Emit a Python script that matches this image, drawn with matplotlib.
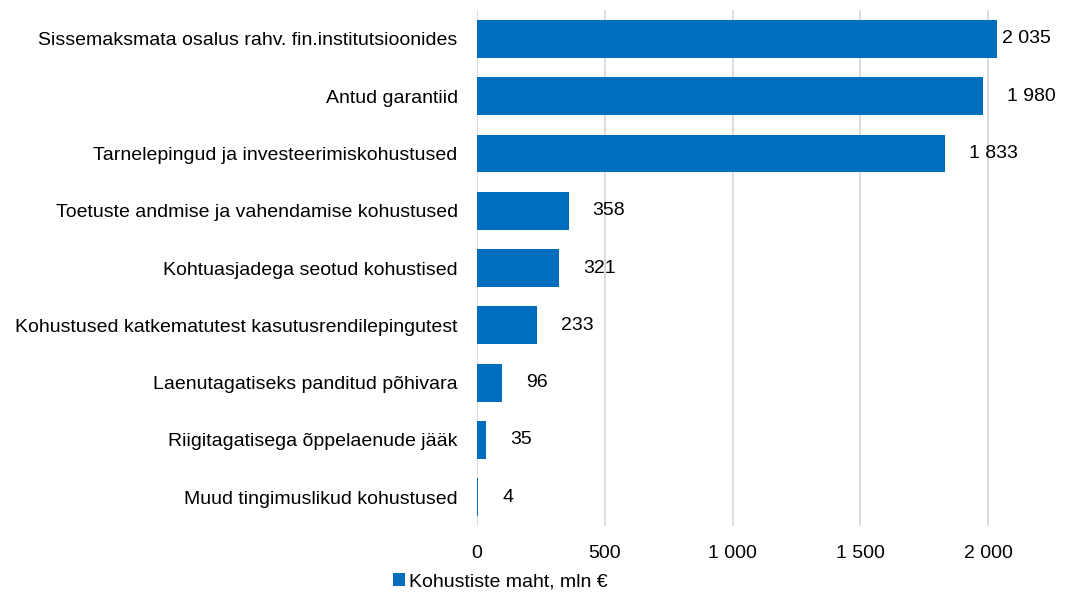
import matplotlib
matplotlib.use("Agg")
import matplotlib.pyplot as plt
from matplotlib.ticker import FuncFormatter

plt.rcParams['font.family'] = ['Liberation Sans Narrow', 'Liberation Sans', 'DejaVu Sans']

# andmed
categories = [
    "Sissemaksmata osalus rahv. fin.institutsioonides",
    "Antud garantiid",
    "Tarnelepingud ja investeerimiskohustused",
    "Toetuste andmise ja vahendamise kohustused",
    "Kohtuasjadega seotud kohustised",
    "Kohustused katkematutest kasutusrendilepingutest",
    "Laenutagatiseks panditud põhivara",
    "Riigitagatisega õppelaenude jääk",
    "Muud tingimuslikud kohustused",
]
values = [2035, 1980, 1833, 358, 321, 233, 96, 35, 4]
x_ticks = [0, 500, 1000, 1500, 2000]
series_name = "Kohustiste maht, mln €"

blue = "#006EBF"


def fmt(v):
    return "{:,}".format(int(v)).replace(",", " ")


fig = plt.figure(figsize=(10.65, 6.03), dpi=100)
ax = fig.add_axes([0.448, 0.128, 0.547, 0.855])

pos = list(range(len(categories)))
ax.barh(pos, values, height=0.66, color=blue, label=series_name, zorder=3)

for i, v in zip(pos, values):
    off = 5 if v > 2000 else 24
    ax.annotate(fmt(v), xy=(v, i), xytext=(off, 0), textcoords="offset pixels",
                ha="left", va="center", fontsize=14, color="#000000")

ax.set_ylim(len(categories) - 0.5, -0.5)
ax.set_xlim(0, 2280)
ax.set_xticks(x_ticks)
ax.xaxis.set_major_formatter(FuncFormatter(lambda v, p: fmt(v)))
ax.set_yticks(pos)
ax.set_yticklabels(categories, fontsize=14)
ax.tick_params(axis="y", length=0, pad=14)
ax.tick_params(axis="x", length=0, pad=14, labelsize=14)

ax.grid(axis="x", color="#D9D9D9", linewidth=1.3, zorder=0)
for s in ax.spines.values():
    s.set_visible(False)

fig.legend(loc="lower left", bbox_to_anchor=(0.353, -0.008), frameon=False,
           fontsize=14, handlelength=0.6, handleheight=0.6, handletextpad=0.2)

fig.savefig("out.png", dpi=100)
